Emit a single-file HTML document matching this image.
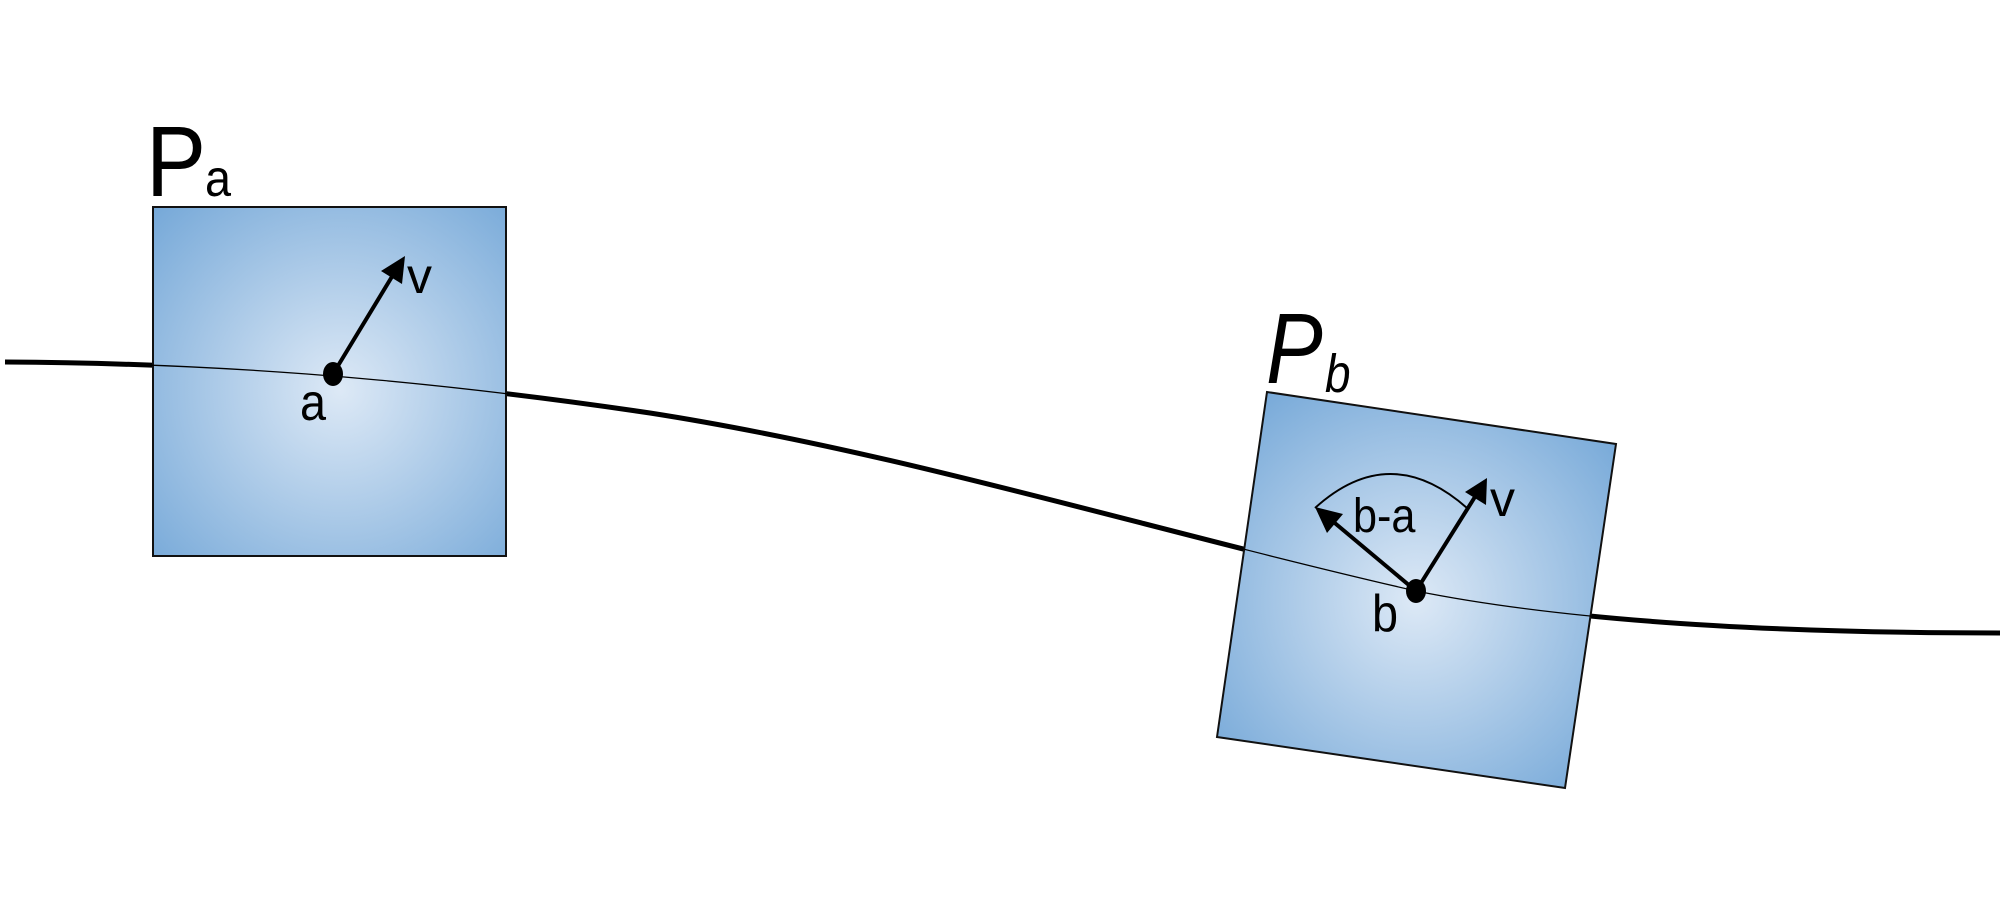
<!DOCTYPE html>
<html><head><meta charset="utf-8"><style>html,body{margin:0;padding:0;background:#fff}svg{display:block}</style></head>
<body>
<svg width="2000" height="923" viewBox="0 0 2000 923" xmlns="http://www.w3.org/2000/svg">
<defs>
<radialGradient id="ga" cx="340" cy="390" r="270" gradientUnits="userSpaceOnUse">
<stop offset="0" stop-color="#dde9f6"/><stop offset="1" stop-color="#72a6d7"/></radialGradient>
<radialGradient id="gb" cx="1416" cy="600" r="270" gradientUnits="userSpaceOnUse">
<stop offset="0" stop-color="#dde9f6"/><stop offset="1" stop-color="#72a6d7"/></radialGradient>
</defs>
<path d="M5,362 C200,363 400,376 650,413 C900,452 1150,530 1416,591 C1600,628 1850,633 2000,633" fill="none" stroke="#000" stroke-width="5"/>
<rect x="153" y="207" width="353" height="349" fill="url(#ga)" stroke="#111" stroke-width="2"/>
<polygon points="1267,392 1616,444 1565,788 1217,737" fill="url(#gb)" stroke="#111" stroke-width="2"/>
<path d="M5,362 C200,363 400,376 650,413 C900,452 1150,530 1416,591 C1600,628 1850,633 2000,633" fill="none" stroke="#000" stroke-width="1.3"/>
<line x1="333" y1="374" x2="396" y2="270" stroke="#000" stroke-width="4"/>
<polygon points="405,256 402,284 381,271" fill="#000"/>
<ellipse cx="333" cy="374" rx="10" ry="12" fill="#000"/>
<line x1="1416" y1="591" x2="1330" y2="519" stroke="#000" stroke-width="4"/>
<polygon points="1315,507 1343,514 1327,533" fill="#000"/>
<line x1="1416" y1="591" x2="1478" y2="492" stroke="#000" stroke-width="4"/>
<polygon points="1487,478 1486,505 1465,492" fill="#000"/>
<path d="M1315,508 Q1390,440 1467,508" fill="none" stroke="#000" stroke-width="2"/>
<ellipse cx="1416" cy="591" rx="10" ry="12" fill="#000"/>
<g font-family="Liberation Sans, sans-serif" fill="#000">
<text x="146" y="196" font-size="100" transform="translate(146 196) scale(0.9 1) translate(-146 -196)">P</text>
<text x="205" y="196" font-size="52" transform="translate(205 196) scale(0.9 1) translate(-205 -196)">a</text>
<text x="407" y="293" font-size="50">v</text>
<text x="300" y="420" font-size="52" transform="translate(300 420) scale(0.9 1) translate(-300 -420)">a</text>
<text x="1266" y="383" font-size="100" font-style="italic" transform="translate(1266 383) scale(0.85 1) translate(-1266 -383)">P</text>
<text x="1325" y="392" font-size="54" font-style="italic" transform="translate(1325 392) scale(0.85 1) translate(-1325 -392)">b</text>
<text x="1353" y="532" font-size="48" transform="translate(1353 532) scale(0.9 1) translate(-1353 -532)">b-a</text>
<text x="1490" y="516" font-size="50">v</text>
<text x="1372" y="631" font-size="52" transform="translate(1372 631) scale(0.9 1) translate(-1372 -631)">b</text>
</g>
</svg>
</body></html>
